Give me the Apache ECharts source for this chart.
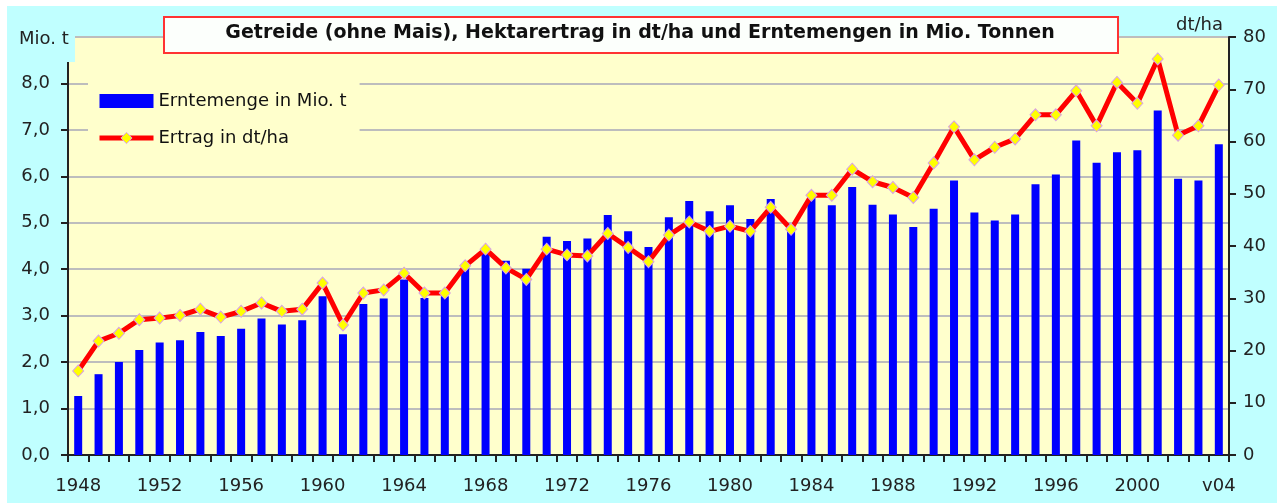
<!DOCTYPE html>
<html>
<head>
<meta charset="utf-8">
<script src="https://cdn.jsdelivr.net/npm/echarts@6/dist/echarts.min.js"></script>
<style>
html,body{margin:0;padding:0;background:#fff;}
#bg{position:absolute;left:7px;top:6px;width:1270px;height:497px;background:#C0FFFF;}
#chart{position:absolute;left:0;top:0;width:1277px;height:503px;}
</style>
</head>
<body>
<div id="bg"></div>
<div id="chart"></div>
<script>
var titleText = 'Getreide (ohne Mais), Hektarertrag in dt/ha und Erntemengen in Mio. Tonnen';
var leftUnit = 'Mio. t';
var rightUnit = 'dt/ha';
var barName = 'Erntemenge in Mio. t';
var lineName = 'Ertrag in dt/ha';

var categories = ['1948','1949','1950','1951','1952','1953','1954','1955','1956','1957',
  '1958','1959','1960','1961','1962','1963','1964','1965','1966','1967',
  '1968','1969','1970','1971','1972','1973','1974','1975','1976','1977',
  '1978','1979','1980','1981','1982','1983','1984','1985','1986','1987',
  '1988','1989','1990','1991','1992','1993','1994','1995','1996','1997',
  '1998','1999','2000','2001','2002','2003','v04'];

var harvest = [1.27,1.74,2.00,2.26,2.42,2.47,2.65,2.56,2.72,2.94,
  2.81,2.90,3.42,2.60,3.25,3.37,3.78,3.38,3.42,4.03,
  4.35,4.18,4.01,4.70,4.61,4.66,5.17,4.82,4.48,5.12,
  5.47,5.25,5.38,5.08,5.51,4.85,5.55,5.38,5.77,5.39,
  5.18,4.91,5.30,5.91,5.22,5.05,5.18,5.83,6.04,6.77,
  6.29,6.52,6.56,7.42,5.95,5.91,6.69];

var yieldHa = [16.1,21.8,23.3,25.9,26.2,26.7,27.9,26.4,27.5,29.1,
  27.5,27.9,32.9,24.9,31.0,31.6,34.8,31.0,31.0,36.2,
  39.4,35.8,33.6,39.4,38.3,38.1,42.4,39.7,37.0,42.1,
  44.6,42.8,43.8,42.8,47.4,43.2,49.7,49.7,54.7,52.3,
  51.2,49.3,55.9,62.8,56.5,58.9,60.5,65.1,65.1,69.7,
  63.0,71.3,67.3,75.8,61.2,63.0,70.8];

var FONT = '"DejaVu Sans", "Liberation Sans", Arial, sans-serif';
var chart = echarts.init(document.getElementById('chart'));
chart.setOption({
  animation: false,
  textStyle: {fontFamily: FONT},
  grid: {left: 68, right: 48, top: 37, bottom: 48, show: true, backgroundColor: '#FFFFCC', borderWidth: 0},
  legend: {
    left: 88, top: 74, orient: 'vertical',
    backgroundColor: '#FFFFCC',
    padding: [18, 13, 16, 9],
    itemWidth: 54, itemHeight: 14, itemGap: 19,
    textStyle: {fontFamily: FONT, fontSize: 18, color: '#111', lineHeight: 18},
    data: [
      {name: barName, icon: 'rect'},
      {name: lineName, lineStyle: {width: 5, color: '#FF0000'}, itemStyle: {color: '#FFFF00', borderColor: '#D8A0E8', borderWidth: 1}}
    ]
  },
  xAxis: {
    type: 'category', data: categories,
    axisLine: {lineStyle: {color: '#222', width: 2}},
    axisTick: {show: true, interval: 0, length: 7, lineStyle: {color: '#222', width: 2}},
    axisLabel: {interval: 3, margin: 22, fontSize: 18, color: '#222', fontFamily: FONT},
    splitLine: {show: false}
  },
  yAxis: [{
    type: 'value', min: 0, max: 9, interval: 1, position: 'left',
    axisLine: {show: true, lineStyle: {color: '#222', width: 2}},
    axisTick: {show: true, length: 7, lineStyle: {color: '#222', width: 2}},
    axisLabel: {margin: 18, fontSize: 18, color: '#222', fontFamily: FONT,
      formatter: function (v) { return v === 9 ? '' : v.toFixed(1).replace('.', ','); }},
    splitLine: {show: true, lineStyle: {color: '#BDBDBD', width: 2}}
  }, {
    type: 'value', min: 0, max: 80, interval: 10, position: 'right',
    axisLine: {show: true, lineStyle: {color: '#222', width: 2}},
    axisTick: {show: true, length: 7, lineStyle: {color: '#222', width: 2}},
    axisLabel: {margin: 14, fontSize: 18, color: '#222', fontFamily: FONT},
    splitLine: {show: false}
  }],
  series: [{
    name: barName, type: 'bar', yAxisIndex: 0, data: harvest,
    barWidth: 8,
    itemStyle: {color: '#0000FF'}
  }, {
    name: lineName, type: 'line', yAxisIndex: 1, data: yieldHa,
    symbol: 'diamond', symbolSize: [11, 12],
    lineStyle: {color: '#FF0000', width: 5},
    itemStyle: {color: '#FFFF00', borderColor: '#D8A0E8', borderWidth: 1},
    z: 3
  }],
  graphic: [
    {type: 'rect', z: 100, shape: {x: 7, y: 24, width: 68, height: 38}, style: {fill: '#C0FFFF'}},
    {type: 'text', z: 101, x: 19, y: 39, style: {text: leftUnit, font: '18px ' + FONT, fill: '#222', textVerticalAlign: 'middle'}},
    {type: 'text', z: 101, x: 1223, y: 25, style: {text: rightUnit, font: '18px ' + FONT, fill: '#222', textAlign: 'right', textVerticalAlign: 'middle'}},
    {type: 'rect', z: 100, shape: {x: 164, y: 17, width: 954, height: 36}, style: {fill: '#FCFFFC', stroke: '#FF3333', lineWidth: 2}},
    {type: 'text', z: 101, x: 640, y: 33, style: {text: titleText, font: 'bold 19px ' + FONT, fill: '#111', textAlign: 'center', textVerticalAlign: 'middle'}}
  ]
});
</script>
</body>
</html>
